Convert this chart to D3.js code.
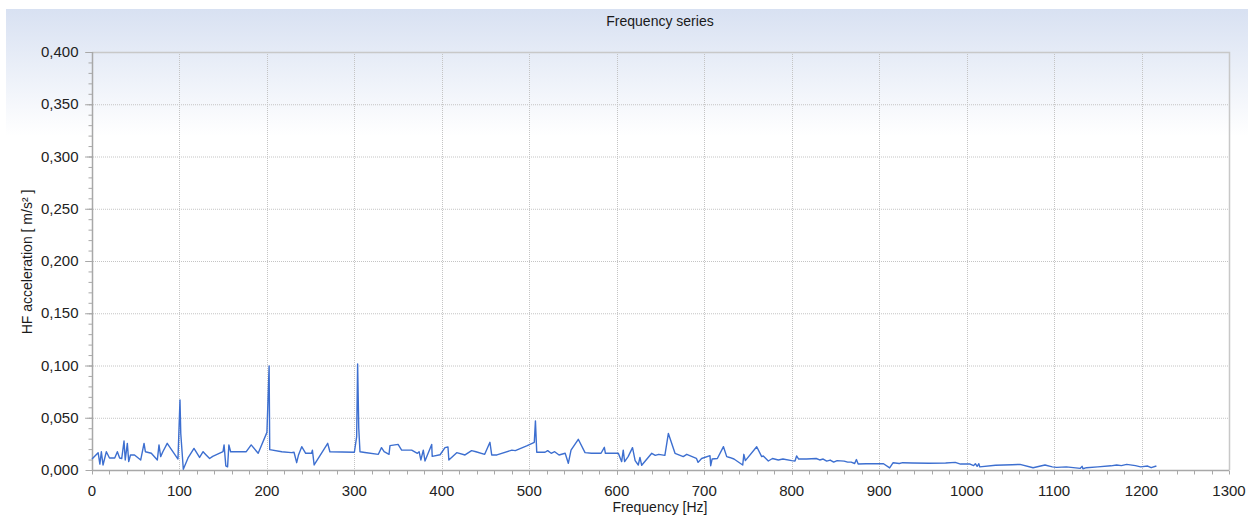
<!DOCTYPE html>
<html>
<head>
<meta charset="utf-8">
<script src="https://cdn.jsdelivr.net/npm/d3@7"></script>
<style>
  html, body { margin: 0; padding: 0; background: #ffffff; }
  svg { display: block; font-family: "Liberation Sans", Arial, sans-serif; }
</style>
</head>
<body>
<svg id="chart" width="1248" height="517"></svg>
<script>
// Spectrum samples: frequency (Hz) and HF acceleration (m/s²)
const freq = [
  0, 7, 9, 10.7, 12.6, 16.4, 20, 26, 29, 31.6, 34, 36.6, 38, 40.4, 42, 44, 48.6, 55.7, 59.5, 61,
  67.8, 74.7, 76.6, 78.5, 81, 86, 98.3, 100.6, 101.5, 104.4, 109.8, 116.6, 123, 127, 130.5, 134.5, 138, 149.8, 151, 153,
  155, 156.5, 158.5, 176.4, 182, 190, 200, 202.5, 203.2, 217, 228, 231, 234, 236, 239.8, 244.3, 251, 252, 254, 269.5,
  272, 300, 302.6, 303.7, 305, 306.4, 312, 327.4, 331, 334, 339.6, 340.7, 350, 354, 365.5, 372, 374, 376, 378.8, 380.7,
  388.4, 389, 398, 403.6, 407, 408, 417, 426.5, 434, 439, 449, 455, 457, 463, 480, 484, 497, 505.7, 507, 508.5,
  518, 521, 525, 529, 534, 541, 544.6, 547.7, 556, 563.7, 571, 582, 585.8, 587, 601.8, 605.6, 607.4, 609, 613, 618,
  621, 624.6, 626.5, 628.5, 640, 644, 648, 655, 659, 666.6, 676, 680, 691, 693, 697, 706.6, 707.4, 709, 715, 722,
  725.7, 729, 734, 744, 745.3, 747, 760, 765.7, 767.5, 773.3, 778, 784.7, 790, 800, 803.8, 805.6, 808, 817, 828, 832,
  836, 840, 844, 848, 852, 860, 864, 868, 872, 874, 876, 885, 905, 912, 916, 923, 927, 938, 957, 976,
  987, 993, 1004, 1008, 1010, 1012, 1014, 1015, 1033, 1052, 1061, 1076, 1089.6, 1098, 1103, 1114, 1130, 1132, 1133, 1137,
  1150, 1165, 1171.5, 1177, 1183, 1193, 1199, 1207, 1211, 1217
];
const accel = [
  0.0105, 0.0166, 0.0057, 0.0175, 0.0048, 0.0175, 0.0115, 0.0115, 0.0175, 0.0115, 0.011, 0.0277, 0.0096, 0.0255, 0.008, 0.0144, 0.0144, 0.0096, 0.0255, 0.0175,
  0.016, 0.0096, 0.024, 0.0128, 0.0175, 0.0255, 0.0105, 0.067, 0.035, 0.0007, 0.0115, 0.0207, 0.012, 0.0175, 0.0144, 0.011, 0.013, 0.0175, 0.024, 0.004,
  0.003, 0.024, 0.0175, 0.0175, 0.024, 0.016, 0.036, 0.0995, 0.0195, 0.0175, 0.0166, 0.017, 0.007, 0.014, 0.0223, 0.016, 0.016, 0.019, 0.0048, 0.0255,
  0.0175, 0.017, 0.032, 0.1015, 0.04, 0.0175, 0.0168, 0.015, 0.0214, 0.0175, 0.015, 0.0233, 0.0245, 0.019, 0.019, 0.016, 0.0175, 0.0096, 0.019, 0.0086,
  0.0245, 0.013, 0.0146, 0.0214, 0.022, 0.0096, 0.0166, 0.0144, 0.0185, 0.0175, 0.015, 0.0265, 0.0144, 0.0144, 0.019, 0.0185, 0.023, 0.0265, 0.047, 0.017,
  0.017, 0.0185, 0.016, 0.0175, 0.0144, 0.016, 0.0064, 0.019, 0.0294, 0.0166, 0.016, 0.016, 0.0217, 0.016, 0.016, 0.008, 0.019, 0.008, 0.0128, 0.0214,
  0.009, 0.0048, 0.012, 0.0045, 0.016, 0.014, 0.015, 0.014, 0.035, 0.016, 0.0128, 0.015, 0.0112, 0.0073, 0.011, 0.0137, 0.0041, 0.0105, 0.011, 0.0223,
  0.0128, 0.012, 0.0105, 0.0048, 0.015, 0.009, 0.0223, 0.0128, 0.0135, 0.0086, 0.011, 0.0096, 0.0105, 0.009, 0.0086, 0.0134, 0.0105, 0.0105, 0.011, 0.0096,
  0.0105, 0.0085, 0.0095, 0.0075, 0.009, 0.0085, 0.0075, 0.0075, 0.0062, 0.01, 0.0057, 0.006, 0.006, 0.002, 0.007, 0.0062, 0.007, 0.0067, 0.0064, 0.0067,
  0.0073, 0.0057, 0.0057, 0.0042, 0.006, 0.0035, 0.006, 0.003, 0.0045, 0.005, 0.0054, 0.0022, 0.0048, 0.003, 0.0025, 0.003, 0.0016, 0.0035, 0.0012, 0.0022,
  0.003, 0.004, 0.0048, 0.0042, 0.0054, 0.0042, 0.003, 0.0038, 0.0022, 0.0038
];
const xTicks = [0, 100, 200, 300, 400, 500, 600, 700, 800, 900, 1000, 1100, 1200, 1300];
const yTicks = [0, 0.05, 0.10, 0.15, 0.20, 0.25, 0.30, 0.35, 0.40];
const chartTitle = "Frequency series";
const xTitle = "Frequency [Hz]";
const yTitle = "HF acceleration [ m/s² ]";

const svg = d3.select("#chart");
const W = 1248, H = 517;
const plot = { left: 92, right: 1229, top: 52, bottom: 470 };

const x = d3.scaleLinear().domain([0, 1300]).range([plot.left, plot.right]);
const y = d3.scaleLinear().domain([0, 0.4]).range([plot.bottom, plot.top]);

// background gradient
const defs = svg.append("defs");
const grad = defs.append("linearGradient").attr("id", "bg").attr("x1", 0).attr("y1", 0).attr("x2", 0).attr("y2", 1);
grad.append("stop").attr("offset", "0%").attr("stop-color", "#d8e1f2");
grad.append("stop").attr("offset", "25%").attr("stop-color", "#ffffff");
grad.append("stop").attr("offset", "100%").attr("stop-color", "#ffffff");
svg.append("rect").attr("x", 6).attr("y", 9).attr("width", W - 6).attr("height", H - 9).attr("fill", "url(#bg)");

// title
svg.append("text").attr("x", 660).attr("y", 26).attr("text-anchor", "middle")
  .attr("font-size", 14).attr("fill", "#1a1a1a").text(chartTitle);

// grid
const fmt = v => d3.format(".3f")(v).replace(".", ",");
svg.append("g").selectAll("line").data(yTicks.filter(d => d > 0)).join("line")
  .attr("x1", plot.left - 7).attr("x2", plot.right)
  .attr("y1", d => y(d) + 0.5).attr("y2", d => y(d) + 0.5)
  .attr("stroke", "#c4c4c4").attr("stroke-dasharray", "1,1");
svg.append("g").selectAll("line").data(xTicks.filter(d => d > 0 && d < 1300)).join("line")
  .attr("x1", d => Math.round(x(d)) + 0.5).attr("x2", d => Math.round(x(d)) + 0.5)
  .attr("y1", plot.top).attr("y2", plot.bottom + 5)
  .attr("stroke", "#c4c4c4").attr("stroke-dasharray", "1,1");

// plot frame (top / right)
svg.append("path")
  .attr("d", `M${plot.left},${plot.top + 0.5}H${plot.right + 0.5}V${plot.bottom}`)
  .attr("fill", "none").attr("stroke", "#c8c8c8").attr("stroke-width", 1.5);

// y axis
const yAxis = svg.append("g").attr("transform", `translate(${plot.left + 0.5},0)`);
yAxis.append("line").attr("y1", plot.top).attr("y2", plot.bottom).attr("stroke", "#a8a8a8").attr("stroke-width", 1.5);
yAxis.selectAll(".minor").data(d3.range(0, 41).map(i => i / 100)).join("line")
  .attr("x1", -4).attr("x2", 0).attr("y1", d => y(d) + 0.5).attr("y2", d => y(d) + 0.5)
  .attr("stroke", "#a8a8a8");
yAxis.selectAll(".major").data(yTicks).join("line")
  .attr("x1", -7).attr("x2", 0).attr("y1", d => y(d) + 0.5).attr("y2", d => y(d) + 0.5)
  .attr("stroke", "#a8a8a8");
yAxis.selectAll("text").data(yTicks).join("text")
  .attr("x", -14).attr("y", d => y(d) + 5).attr("text-anchor", "end")
  .attr("font-size", 15).attr("fill", "#222").text(fmt);

// x axis
const xAxis = svg.append("g").attr("transform", `translate(0,${plot.bottom + 0.5})`);
xAxis.append("line").attr("x1", plot.left).attr("x2", plot.right).attr("stroke", "#a8a8a8").attr("stroke-width", 1.5);
xAxis.selectAll(".minor").data(d3.range(0, 1301, 20)).join("line")
  .attr("x1", d => Math.round(x(d)) + 0.5).attr("x2", d => Math.round(x(d)) + 0.5)
  .attr("y1", 0).attr("y2", 4).attr("stroke", "#a8a8a8");
xAxis.selectAll("text").data(xTicks).join("text")
  .attr("x", d => x(d)).attr("y", 25).attr("text-anchor", "middle")
  .attr("font-size", 15).attr("fill", "#222").text(d => d);

// axis titles
svg.append("text").attr("x", 660).attr("y", 512).attr("text-anchor", "middle")
  .attr("font-size", 14).attr("fill", "#1a1a1a").text(xTitle);
svg.append("text").attr("transform", "translate(32,262) rotate(-90)").attr("text-anchor", "middle")
  .attr("font-size", 14).attr("fill", "#1a1a1a").text(yTitle);

// series line
const pts = freq.map((f, i) => [f, accel[i]]);
const line = d3.line().x(d => x(d[0])).y(d => y(d[1]));
svg.append("path").datum(pts).attr("d", line)
  .attr("fill", "none").attr("stroke", "#3d6fd0").attr("stroke-width", 1.4)
  .attr("stroke-linejoin", "round");
</script>
</body>
</html>
